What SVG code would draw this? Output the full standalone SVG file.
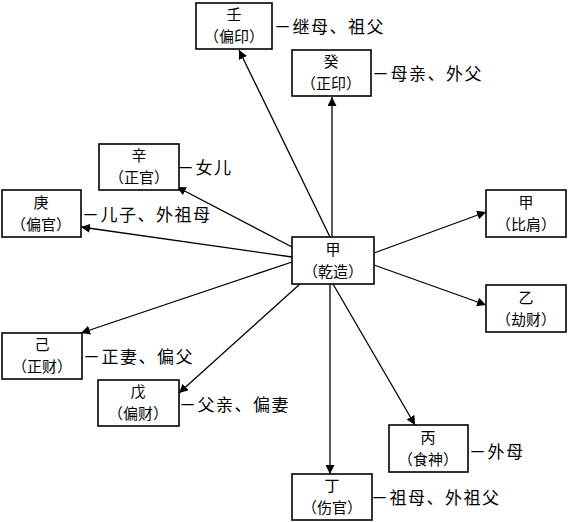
<svg xmlns="http://www.w3.org/2000/svg" width="568" height="522" viewBox="0 0 568 522">
<defs>
<style>
.box{fill:#fff;stroke:#000;stroke-width:1.6}
.t{font-family:"Noto Sans CJK SC","Noto Sans",sans-serif;font-size:15px;fill:#000;text-anchor:middle}
.l{font-family:"Noto Sans CJK SC","Noto Sans",sans-serif;font-size:17px;letter-spacing:1.5px;fill:#000}
.c{stroke:#000;stroke-width:1.3;fill:none;marker-end:url(#ah)}
</style>
<marker id="ah" viewBox="0 0 10 10" refX="10" refY="5" markerWidth="9" markerHeight="9" markerUnits="userSpaceOnUse" orient="auto">
<path d="M0,0 L10,5 L0,10 z" fill="#000"/>
</marker>
</defs>
<rect width="568" height="522" fill="#fff"/>
<g id="connectors">
<line class="c" x1="330" y1="237" x2="239" y2="50"/>
<line class="c" x1="332" y1="237" x2="332" y2="97"/>
<line class="c" x1="292" y1="247" x2="177" y2="187"/>
<line class="c" x1="292" y1="257" x2="81" y2="227"/>
<line class="c" x1="374" y1="253" x2="486" y2="212"/>
<line class="c" x1="374" y1="265" x2="486" y2="305"/>
<line class="c" x1="292" y1="262" x2="81" y2="333"/>
<line class="c" x1="300" y1="284" x2="179" y2="393"/>
<line class="c" x1="333" y1="284" x2="415" y2="425"/>
<line class="c" x1="330" y1="284" x2="330" y2="474"/>
</g>
<g id="jia-center"><rect class="box" x="292" y="237" width="82" height="47"/><text class="t" x="333" y="255">甲</text><text class="t" x="333" y="277">（乾造）</text></g>
<g id="ren"><rect class="box" x="196" y="3" width="76" height="46"/><text class="t" x="234" y="20">壬</text><text class="t" x="234" y="42">（偏印）</text></g>
<text class="l" x="274" y="33">－继母、祖父</text>
<g id="gui"><rect class="box" x="292" y="50" width="79" height="46"/><text class="t" x="331" y="67">癸</text><text class="t" x="331" y="89">（正印）</text></g>
<text class="l" x="372" y="80">－母亲、外父</text>
<g id="xin"><rect class="box" x="99" y="144" width="80" height="46"/><text class="t" x="139" y="161">辛</text><text class="t" x="139" y="183">（正官）</text></g>
<text class="l" x="177" y="174">－女儿</text>
<g id="geng"><rect class="box" x="2" y="190" width="79" height="47"/><text class="t" x="41" y="208">庚</text><text class="t" x="41" y="230">（偏官）</text></g>
<text class="l" x="82" y="221">－儿子、外祖母</text>
<g id="jia"><rect class="box" x="486" y="190" width="80" height="47"/><text class="t" x="526" y="208">甲</text><text class="t" x="526" y="230">（比肩）</text></g>
<g id="yi"><rect class="box" x="486" y="285" width="80" height="47"/><text class="t" x="526" y="303">乙</text><text class="t" x="526" y="325">（劫财）</text></g>
<g id="ji"><rect class="box" x="2" y="333" width="80" height="46"/><text class="t" x="42" y="350">己</text><text class="t" x="42" y="372">（正财）</text></g>
<text class="l" x="83" y="363">－正妻、偏父</text>
<g id="wu"><rect class="box" x="98" y="380" width="81" height="46"/><text class="t" x="138" y="397">戊</text><text class="t" x="138" y="419">（偏财）</text></g>
<text class="l" x="179" y="411">－父亲、偏妻</text>
<g id="bing"><rect class="box" x="389" y="425" width="79" height="47"/><text class="t" x="428" y="443">丙</text><text class="t" x="428" y="465">（食神）</text></g>
<text class="l" x="469" y="458">－外母</text>
<g id="ding"><rect class="box" x="292" y="474" width="80" height="46"/><text class="t" x="332" y="491">丁</text><text class="t" x="332" y="513">（伤官）</text></g>
<text class="l" x="371" y="504">－祖母、外祖父</text>
</svg>
